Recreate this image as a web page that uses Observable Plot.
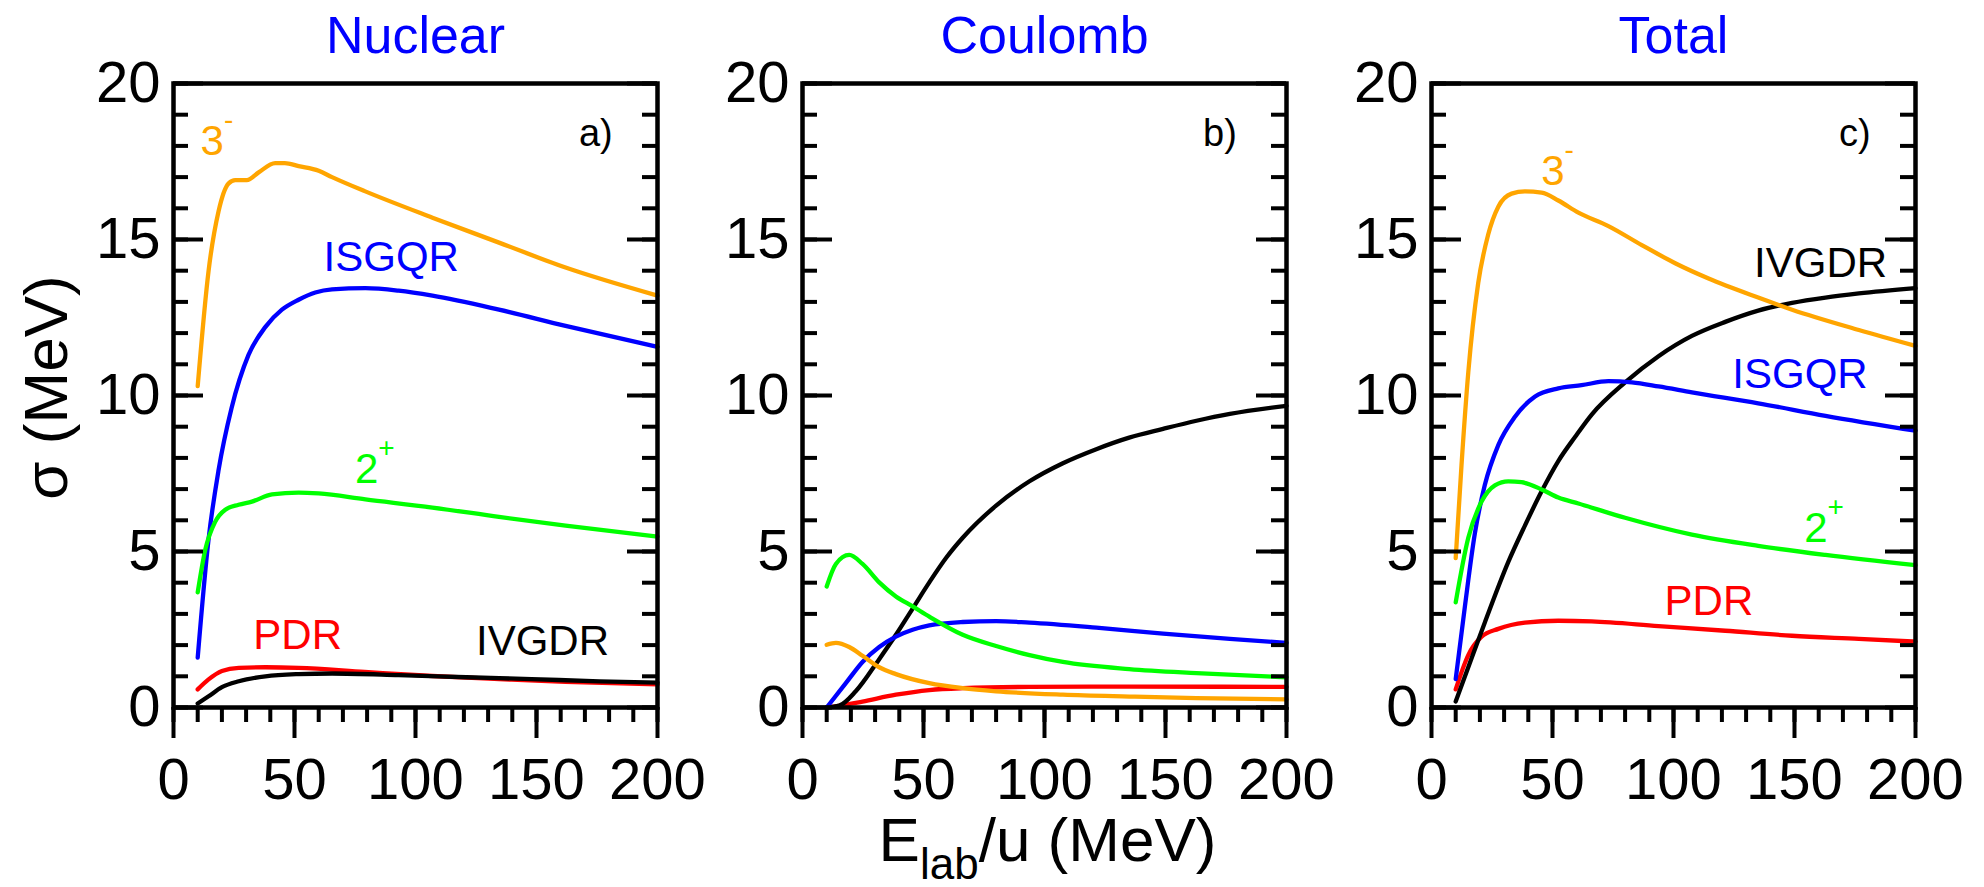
<!DOCTYPE html>
<html>
<head>
<meta charset="utf-8">
<script src="https://cdn.jsdelivr.net/npm/d3@7"></script>
<script src="https://cdn.jsdelivr.net/npm/@observablehq/plot@0.6"></script>
<style>
  body { margin: 0; background: #ffffff; }
  #chart { position: relative; width: 1984px; height: 887px; background: #ffffff; overflow: hidden; }
  #chart svg { position: absolute; top: 0; }
</style>
</head>
<body>
<div id="chart"></div>
<script>
// ---------------- data ----------------
const xMajorTicks = [0, 50, 100, 150, 200];
const xMinorTicks = [0, 10, 20, 30, 40, 50, 60, 70, 80, 90, 100, 110, 120, 130, 140, 150, 160, 170, 180, 190, 200];
const yMajorTicks = [0, 5, 10, 15, 20];
const yMinorTicks = [0, 1, 2, 3, 4, 5, 6, 7, 8, 9, 10, 11, 12, 13, 14, 15, 16, 17, 18, 19, 20];

const panelTitles = ["Nuclear", "Coulomb", "Total"];
const panelLetters = ["a)", "b)", "c)"];
const yAxisLabel = "σ (MeV)";
const xAxisLabel = "E_{lab}/u (MeV)";

// Nuclear: [E_lab/u, sigma]
const nucOct = [[10,10.3],[14.5,14.0],[18.6,15.9],[22.8,16.8],[25.5,16.9],[30.3,16.9],[35.2,17.15],[42,17.45],[46,17.45],[51.7,17.35],[60,17.2],[65.5,17.0],[79,16.55],[107,15.7],[134.5,14.9],[162,14.1],[200,13.2]];
const nucISGQR = [[10,1.6],[14.5,5.4],[18.6,7.6],[24,9.6],[31,11.3],[38,12.2],[44.8,12.75],[51.7,13.07],[58.6,13.3],[65.5,13.4],[79.3,13.44],[93,13.36],[107,13.2],[134.5,12.75],[162,12.23],[200,11.56]];
const nucQuad = [[10,3.69],[13.1,5.05],[17.2,5.95],[21.4,6.34],[26.9,6.5],[32.4,6.6],[40.7,6.83],[51.7,6.89],[60,6.86],[79.3,6.67],[107,6.41],[134.5,6.11],[162,5.83],[200,5.48]];
const nucPDR = [[10,0.58],[14.5,0.9],[20,1.17],[27,1.27],[38,1.29],[51.7,1.27],[79,1.14],[107,1.01],[134.5,0.91],[162,0.82],[200,0.74]];
const nucIVGDR = [[10,0.13],[14.5,0.36],[20,0.65],[27,0.84],[38,1.0],[51.7,1.07],[65.5,1.09],[93,1.04],[121,0.97],[148,0.91],[176,0.84],[200,0.8]];

// Coulomb
const coulOct = [[10,2.01],[13.8,2.07],[19.3,1.94],[24.8,1.66],[31.7,1.29],[38.6,1.07],[52.4,0.78],[66.2,0.62],[80,0.52],[107.6,0.41],[135,0.35],[162.8,0.3],[200,0.26]];
const coulISGQR = [[10,0],[17.9,0.78],[24.8,1.46],[31.7,1.94],[38.6,2.27],[45.5,2.49],[52.4,2.63],[66.2,2.74],[80,2.77],[93.8,2.72],[121.4,2.56],[149,2.37],[176.6,2.2],[200,2.07]];
const coulQuad = [[10,3.88],[13.8,4.6],[19.3,4.89],[24.8,4.6],[31.7,4.01],[38.6,3.56],[45.5,3.24],[52.4,2.91],[66.2,2.33],[80,1.97],[93.8,1.68],[107.6,1.46],[135,1.23],[162.8,1.1],[200,0.97]];
const coulPDR = [[10,0],[15,0.05],[24.8,0.19],[38.6,0.41],[52.4,0.56],[66.2,0.62],[93.8,0.66],[135,0.67],[200,0.66]];
const coulIVGDR = [[10,0],[15.2,0.06],[22,0.52],[31.7,1.55],[38.6,2.33],[45.5,3.17],[52.4,4.01],[59.3,4.79],[66.2,5.44],[80,6.47],[93.8,7.25],[107.6,7.83],[121.4,8.28],[135,8.65],[149,8.93],[162.8,9.19],[176.6,9.41],[200,9.67]];

// Total
const totOct = [[10,4.79],[12.4,7.77],[15.2,10.74],[19.3,13.6],[23.4,15.15],[27.6,16.05],[33.1,16.47],[38.6,16.54],[45.5,16.5],[52.4,16.25],[60.7,15.86],[73.1,15.43],[86.9,14.82],[100.7,14.24],[114.5,13.75],[135,13.14],[149,12.75],[176.6,12.1],[200,11.59]];
const totISGQR = [[10,0.91],[13.8,3.24],[17.9,5.57],[22,7.12],[27.6,8.41],[34.5,9.32],[42.8,9.97],[52.4,10.23],[62,10.33],[73.1,10.46],[82.8,10.42],[93.8,10.29],[107.6,10.1],[135,9.75],[162.8,9.35],[200,8.87]];
const totQuad = [[10,3.37],[15.2,5.44],[20.7,6.6],[26.2,7.12],[31.7,7.25],[37.2,7.22],[45.5,6.99],[52.4,6.73],[60.7,6.54],[80,6.08],[107.6,5.54],[135,5.18],[162.8,4.89],[200,4.56]];
const totPDR = [[10,0.58],[15.2,1.68],[20.7,2.27],[27.6,2.52],[38.6,2.72],[52.4,2.78],[66.2,2.76],[93.8,2.61],[121.4,2.46],[149,2.3],[176.6,2.2],[200,2.11]];
const totIVGDR = [[10,0.19],[15.2,1.29],[22,2.72],[31.7,4.66],[38.6,5.83],[45.5,6.93],[52.4,7.9],[59.3,8.67],[66.2,9.39],[80,10.42],[93.8,11.26],[107.6,11.91],[121.4,12.36],[135,12.72],[149,12.97],[162.8,13.14],[176.6,13.27],[200,13.44]];

// Curve-label names and their anchor points (data units: E_lab/u, sigma at baseline)
const seriesNames = {oct: "3^{-}", isgqr: "ISGQR", quad: "2^{+}", pdr: "PDR", ivgdr: "IVGDR"};
const nucLabelAt = {oct: [11.2, 17.7], isgqr: [62, 13.98], quad: [75, 7.18], pdr: [33, 1.88], ivgdr: [125, 1.68]};
const coulLabelAt = {};
const totLabelAt = {oct: [45.3, 16.76], ivgdr: [133.3, 13.79], isgqr: [124.3, 10.23], quad: [154, 5.31], pdr: [96.3, 2.98]};
const letterAt = [[181.5, 18.0], [179.5, 18.0], [181.5, 18.0]];

// ---------------- styling / layout ----------------
const colors = {oct: "#ffa500", isgqr: "#0000ff", quad: "#00ff00", pdr: "#ff0000", ivgdr: "#000000"};
const drawOrder = ["pdr", "ivgdr", "isgqr", "quad", "oct"];
const FONT = "'Liberation Sans', Arial, Helvetica, sans-serif";
const H = 887, MT = 83, MB = 180, FRAME_W = 484, FRAME_H = H - MT - MB;
// each panel gets its own non-overlapping svg: [svg left, svg width, frame left inside svg]
const panelBoxes = [[0, 730, 173], [730, 630, 72], [1360, 624, 71]];

function panel(i, series, labelAt) {
  const [left, w, ml] = panelBoxes[i];
  const mr = w - ml - FRAME_W;
  const marks = [];
  for (const k of drawOrder) {
    marks.push(Plot.line(series[k], {x: d => d[0], y: d => d[1], stroke: colors[k], strokeWidth: 4.3, curve: "monotone-x"}));
  }
  marks.push(
    Plot.frame({stroke: "black", strokeWidth: 4.5}),
    Plot.tickX(xMinorTicks, {x: d => d, stroke: "black", strokeWidth: 4, insetTop: FRAME_H, insetBottom: -15}),
    Plot.tickX(xMajorTicks, {x: d => d, stroke: "black", strokeWidth: 4, insetTop: FRAME_H, insetBottom: -31}),
    Plot.tickY(yMinorTicks, {y: d => d, stroke: "black", strokeWidth: 4, insetRight: FRAME_W - 15}),
    Plot.tickY(yMajorTicks, {y: d => d, stroke: "black", strokeWidth: 4, insetRight: FRAME_W - 30}),
    Plot.tickY(yMinorTicks, {y: d => d, stroke: "black", strokeWidth: 4, insetLeft: FRAME_W - 15}),
    Plot.tickY(yMajorTicks, {y: d => d, stroke: "black", strokeWidth: 4, insetLeft: FRAME_W - 30}),
    Plot.text(xMajorTicks, {x: d => d, text: d => `${d}`, frameAnchor: "bottom", lineAnchor: "top", dy: 50, fontSize: 58, fill: "black"}),
    Plot.text(yMajorTicks, {y: d => d, text: d => `${d}`, frameAnchor: "left", textAnchor: "end", lineAnchor: "middle", dx: -13, fontSize: 58, fill: "black"}),
    Plot.text([panelTitles[i]], {frameAnchor: "top", lineAnchor: "bottom", dy: -31, fontSize: 52, fill: "#0000ff"}),
    Plot.text([letterAt[i]], {x: d => d[0], y: d => d[1], text: () => panelLetters[i], textAnchor: "end", lineAnchor: "bottom", fontSize: 38, fill: "black"})
  );
  for (const k of Object.keys(labelAt)) {
    marks.push(Plot.text([labelAt[k]], {x: d => d[0], y: d => d[1], text: () => seriesNames[k], textAnchor: "start", lineAnchor: "bottom", fontSize: 42, fill: colors[k]}));
  }
  if (i === 0) {
    marks.push(Plot.text([yAxisLabel], {frameAnchor: "left", rotate: -90, textAnchor: "middle", lineAnchor: "middle", dx: -126, dy: -8, fontSize: 62, fill: "black"}));
  }
  if (i === 1) {
    marks.push(Plot.text([xAxisLabel], {frameAnchor: "bottom", textAnchor: "middle", lineAnchor: "bottom", dx: 3, dy: 153, fontSize: 62, fill: "black"}));
  }
  const svg = Plot.plot({
    width: w, height: H,
    marginLeft: ml, marginRight: mr, marginTop: MT, marginBottom: MB,
    x: {domain: [0, 200], axis: null},
    y: {domain: [0, 20], axis: null},
    style: {background: "transparent", overflow: "visible", fontFamily: FONT, maxWidth: "none"},
    marks
  });
  svg.style.left = `${left}px`;
  return svg;
}

// turn ^{..} and _{..} into superscript / subscript tspans
function richText(svg) {
  svg.querySelectorAll("text").forEach(t => {
    const s = t.textContent;
    if (!/[\^_]\{/.test(s)) return;
    const parts = s.split(/([\^_]\{[^}]*\})/).filter(p => p.length);
    t.textContent = "";
    let shift = 0;
    for (const p of parts) {
      const ts = document.createElementNS("http://www.w3.org/2000/svg", "tspan");
      let target = 0;
      if (p.startsWith("^{")) { ts.textContent = p.slice(2, -1); ts.setAttribute("font-size", "28"); target = -26; }
      else if (p.startsWith("_{")) { ts.textContent = p.slice(2, -1); ts.setAttribute("font-size", "44"); target = 18; }
      else { ts.textContent = p; }
      if (target !== shift) ts.setAttribute("dy", `${target - shift}`);
      shift = target;
      t.appendChild(ts);
    }
  });
}

const chart = document.getElementById("chart");
const nuclear = {oct: nucOct, isgqr: nucISGQR, quad: nucQuad, pdr: nucPDR, ivgdr: nucIVGDR};
const coulomb = {oct: coulOct, isgqr: coulISGQR, quad: coulQuad, pdr: coulPDR, ivgdr: coulIVGDR};
const total = {oct: totOct, isgqr: totISGQR, quad: totQuad, pdr: totPDR, ivgdr: totIVGDR};
[[nuclear, nucLabelAt], [coulomb, coulLabelAt], [total, totLabelAt]].forEach(([s, l], i) => {
  const svg = panel(i, s, l);
  richText(svg);
  chart.appendChild(svg);
});
</script>
</body>
</html>
